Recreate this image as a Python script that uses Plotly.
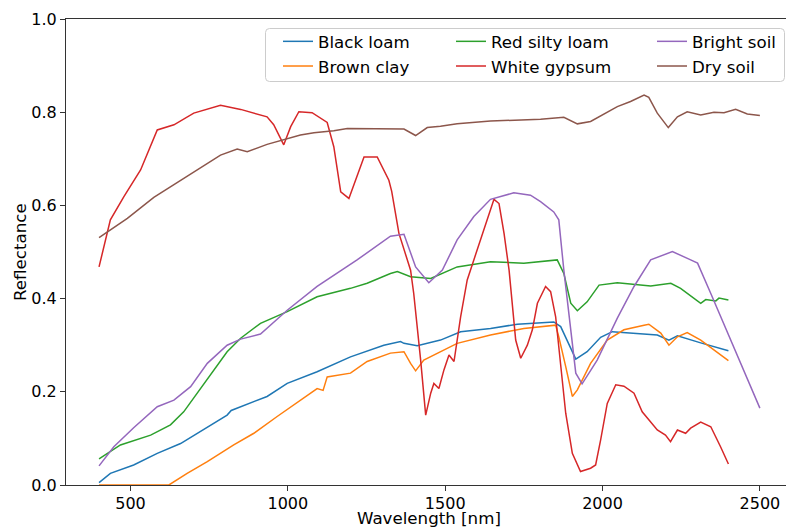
import plotly.graph_objects as go

# ---- data ----
black_wl = [400, 436, 510, 585, 659, 744, 807, 820, 850, 934, 998, 1093, 1199, 1305, 1358, 1369, 1411,
            1485, 1549, 1644, 1729, 1845, 1867, 1893, 1915, 1951, 1994, 2031, 2110, 2174, 2211, 2238,
            2312, 2400]
black_r = [0.005, 0.025, 0.043, 0.068, 0.089, 0.125, 0.150, 0.160, 0.168, 0.190, 0.218, 0.243, 0.275,
           0.300, 0.308, 0.304, 0.299, 0.311, 0.329, 0.336, 0.345, 0.350, 0.340, 0.304, 0.270, 0.286,
           0.317, 0.329, 0.326, 0.322, 0.311, 0.320, 0.305, 0.288]

brown_wl = [400, 622, 680, 744, 828, 892, 966, 1040, 1093, 1112, 1125, 1199, 1252, 1326, 1369, 1390,
            1406, 1432, 1485, 1538, 1644, 1750, 1851, 1861, 1883, 1904, 1920, 1962, 2015, 2068, 2132,
            2147, 2185, 2211, 2238, 2269, 2312, 2354, 2400]
brown_r = [0.0, 0.0, 0.025, 0.050, 0.086, 0.111, 0.147, 0.182, 0.207, 0.203, 0.232, 0.240, 0.265,
           0.283, 0.286, 0.261, 0.245, 0.268, 0.286, 0.304, 0.322, 0.336, 0.343, 0.318, 0.254, 0.190,
           0.204, 0.261, 0.311, 0.333, 0.343, 0.345, 0.326, 0.300, 0.318, 0.327, 0.311, 0.290, 0.267]

redsilty_wl = [400, 468, 564, 627, 669, 722, 776, 807, 850, 913, 998, 1093, 1199, 1252, 1326, 1348,
               1390, 1454, 1538, 1644, 1750, 1856, 1877, 1899, 1920, 1951, 1989, 2047, 2153, 2217,
               2248, 2291, 2312, 2328, 2360, 2370, 2400]
redsilty_r = [0.056, 0.086, 0.107, 0.129, 0.157, 0.207, 0.257, 0.286, 0.315, 0.347, 0.372, 0.404,
              0.422, 0.433, 0.454, 0.458, 0.447, 0.443, 0.468, 0.479, 0.476, 0.483, 0.454, 0.390,
              0.374, 0.393, 0.429, 0.434, 0.427, 0.433, 0.422, 0.401, 0.390, 0.398, 0.395, 0.401, 0.397]

gypsum_wl = [400, 436, 479, 532, 585, 638, 701, 786, 850, 934, 955, 987, 1009, 1035, 1077, 1125, 1146,
             1168, 1194, 1242, 1284, 1321, 1330, 1353, 1390, 1400, 1422, 1438, 1454, 1464, 1480, 1496,
             1512, 1528, 1549, 1570, 1591, 1623, 1655, 1671, 1687, 1703, 1708, 1724, 1740, 1761, 1777,
             1793, 1819, 1835, 1851, 1867, 1883, 1904, 1930, 1962, 1978, 1994, 2015, 2042, 2068, 2100,
             2126, 2174, 2200, 2216, 2238, 2264, 2280, 2312, 2344, 2375, 2400]
gypsum_r = [0.468, 0.569, 0.619, 0.676, 0.762, 0.773, 0.798, 0.815, 0.806, 0.790, 0.773, 0.730, 0.769,
            0.801, 0.799, 0.778, 0.726, 0.629, 0.615, 0.704, 0.704, 0.654, 0.630, 0.540, 0.461, 0.411,
            0.268, 0.150, 0.197, 0.218, 0.207, 0.247, 0.279, 0.265, 0.361, 0.440, 0.483, 0.547, 0.613,
            0.604, 0.540, 0.461, 0.426, 0.311, 0.272, 0.300, 0.333, 0.390, 0.426, 0.415, 0.361, 0.254,
            0.154, 0.068, 0.029, 0.036, 0.043, 0.097, 0.175, 0.215, 0.212, 0.197, 0.157, 0.118, 0.107,
            0.093, 0.118, 0.111, 0.122, 0.135, 0.125, 0.082, 0.045]

bright_wl = [400, 447, 510, 585, 638, 691, 744, 807, 850, 913, 998, 1093, 1220, 1326, 1369, 1406,
             1448, 1491, 1538, 1591, 1644, 1718, 1771, 1803, 1845, 1861, 1877, 1899, 1915, 1935, 1983,
             2047, 2100, 2153, 2222, 2280, 2302, 2344, 2407, 2460, 2500]
bright_r = [0.041, 0.082, 0.123, 0.168, 0.182, 0.211, 0.261, 0.300, 0.313, 0.324, 0.375, 0.426, 0.483,
            0.534, 0.538, 0.468, 0.434, 0.461, 0.526, 0.576, 0.613, 0.627, 0.622, 0.608, 0.586, 0.569,
            0.461, 0.340, 0.240, 0.217, 0.268, 0.358, 0.426, 0.483, 0.501, 0.483, 0.476, 0.411, 0.311,
            0.225, 0.165]

dry_wl = [400, 490, 574, 680, 786, 839, 871, 934, 998, 1040, 1083, 1146, 1189, 1252, 1326, 1369, 1406,
          1443, 1485, 1538, 1644, 1750, 1803, 1877, 1920, 1962, 2047, 2089, 2132, 2147, 2174, 2209,
          2238, 2269, 2312, 2354, 2386, 2423, 2460, 2500]
dry_r = [0.531, 0.572, 0.617, 0.662, 0.708, 0.721, 0.715, 0.731, 0.743, 0.751, 0.756, 0.760, 0.765,
         0.765, 0.765, 0.764, 0.750, 0.767, 0.770, 0.775, 0.781, 0.783, 0.785, 0.789, 0.775, 0.780,
         0.812, 0.823, 0.837, 0.832, 0.798, 0.767, 0.790, 0.801, 0.794, 0.800, 0.799, 0.806, 0.796, 0.793]

names = ["Black loam", "Brown clay", "Red silty loam", "White gypsum", "Bright soil", "Dry soil"]
colors = ["#1f77b4", "#ff7f0e", "#2ca02c", "#d62728", "#9467bd", "#8c564b"]
series = [(black_wl, black_r), (brown_wl, brown_r), (redsilty_wl, redsilty_r),
          (gypsum_wl, gypsum_r), (bright_wl, bright_r), (dry_wl, dry_r)]
legend_ids = ["legend", "legend", "legend2", "legend2", "legend3", "legend3"]
x_title = "Wavelength [nm]"
y_title = "Reflectance"

FONT = "DejaVu Sans"

fig = go.Figure()
for (wl, r), name, c, lg in zip(series, names, colors, legend_ids):
    fig.add_trace(go.Scatter(x=wl, y=r, mode="lines", name=name,
                             line=dict(color=c, width=1.5), legend=lg))

W, H = 786, 529
ml, mr, mt, mb = 66, 0, 19, 44
pw, ph = W - ml - mr, H - mt - mb

def px_x(p):
    return (p - ml) / pw

def px_y(p):
    return (H - mb - p) / ph

leg_common = dict(bgcolor="rgba(0,0,0,0)", borderwidth=0, xanchor="left", yanchor="top",
                  font=dict(family=FONT, size=16.67, color="#000000"), orientation="v",
                  tracegroupgap=0, itemwidth=30)

# legend frame (rounded rectangle)
x0, x1 = px_x(265.5), px_x(784.5)
y0, y1 = px_y(81.5), px_y(28.5)
rx, ry = 4 / pw, 4 / ph
path = (f"M {x0+rx},{y1} L {x1-rx},{y1} Q {x1},{y1} {x1},{y1-ry} L {x1},{y0+ry} "
        f"Q {x1},{y0} {x1-rx},{y0} L {x0+rx},{y0} Q {x0},{y0} {x0},{y0+ry} "
        f"L {x0},{y1-ry} Q {x0},{y1} {x0+rx},{y1} Z")

fig.update_layout(
    width=W, height=H,
    margin=dict(l=ml, r=mr, t=mt, b=mb, autoexpand=False),
    paper_bgcolor="white", plot_bgcolor="white",
    font=dict(family=FONT, size=16, color="#000000"),
    showlegend=True,
    legend=dict(x=px_x(278), y=px_y(24), **leg_common),
    legend2=dict(x=px_x(451), y=px_y(24), **leg_common),
    legend3=dict(x=px_x(652), y=px_y(24), **leg_common),
    shapes=[dict(type="path", path=path, xref="paper", yref="paper",
                 line=dict(color="#cccccc", width=1), fillcolor="rgba(255,255,255,0.8)",
                 layer="above")],
    annotations=[
        dict(text=x_title, xref="paper", yref="paper", x=px_x(429), y=px_y(529),
             xanchor="center", yanchor="bottom", showarrow=False, borderpad=0,
             font=dict(family=FONT, size=16.67, color="#000000")),
        dict(text=y_title, xref="paper", yref="paper", x=px_x(20.5), y=px_y(252.5),
             xanchor="center", yanchor="middle", showarrow=False, textangle=-90,
             font=dict(family=FONT, size=16.67, color="#000000")),
    ],
    xaxis=dict(range=[295, 2583], tickvals=[500, 1000, 1500, 2000, 2500], automargin=False,
               showgrid=False, zeroline=False, showline=True, mirror=True,
               linecolor="#333333", linewidth=1, ticks="outside", ticklen=5,
               ticklabelstandoff=-1,
               tickcolor="#333333", tickfont=dict(family=FONT, size=16, color="#000000")),
    yaxis=dict(range=[0, 1.0], tickvals=[0.0, 0.2, 0.4, 0.6, 0.8, 1.0], automargin=False,
               ticktext=["0.0", "0.2", "0.4", "0.6", "0.8", "1.0"],
               showgrid=False, zeroline=False, showline=True, mirror=False,
               linecolor="#333333", linewidth=1, ticks="outside", ticklen=5,
               tickcolor="#333333", tickfont=dict(family=FONT, size=16, color="#000000")),
)

fig.write_html("out.html")
